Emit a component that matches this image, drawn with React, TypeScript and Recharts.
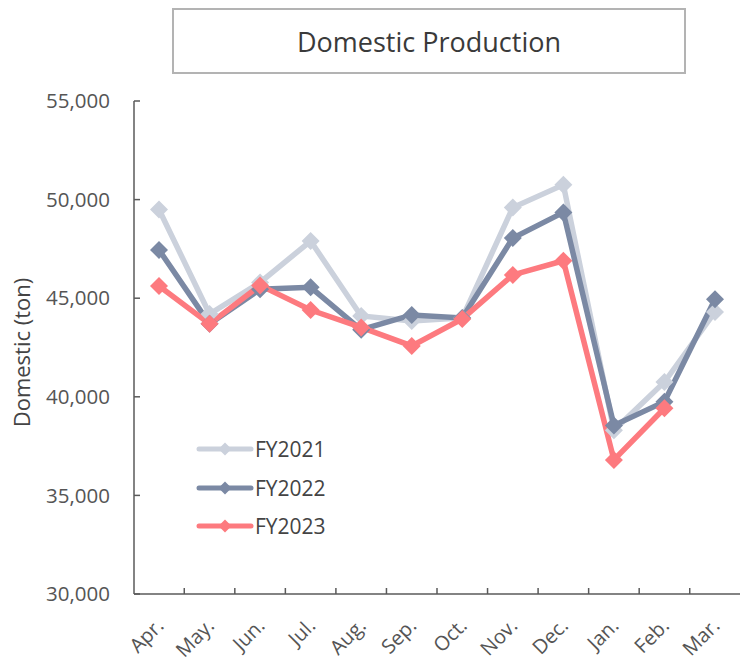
import React from "react";
import { LineChart, Line, XAxis, YAxis } from "recharts";

const MONTHS = ["Apr.", "May.", "Jun.", "Jul.", "Aug.", "Sep.", "Oct.", "Nov.", "Dec.", "Jan.", "Feb.", "Mar."];
const FY2021 = [49500, 44200, 45800, 47900, 44100, 43850, 44000, 49600, 50750, 38300, 40750, 44300];
const FY2022 = [47450, 43700, 45450, 45550, 43400, 44150, 44000, 48050, 49350, 38550, 39750, 44950];
const FY2023 = [45620, 43700, 45650, 44400, 43520, 42580, 43950, 46180, 46900, 36800, 39420, null];
const Y_TICKS = [30000, 35000, 40000, 45000, 50000, 55000];

const SERIES = [
  { key: "FY2021", color: "#cbd1dc", values: FY2021 },
  { key: "FY2022", color: "#7b89a4", values: FY2022 },
  { key: "FY2023", color: "#fd7a7f", values: FY2023 },
];

const FONT = "'Open Sans', 'Noto Sans', sans-serif";
const AXIS_COLOR = "#5a5a5a";
const TEXT_COLOR = "#555555";

// plot area: y axis at x=134, right edge at 740; half a category either side
const PLOT_W = 606;
const PAD = 25;
const HALF_STEP = (PLOT_W - 2 * PAD) / (MONTHS.length - 1) / 2;

const data = MONTHS.map((m, i) => ({
  month: m,
  FY2021: FY2021[i],
  FY2022: FY2022[i],
  FY2023: FY2023[i],
}));

const diamond = (color: string) => (props: any) => {
  const { cx, cy, index } = props;
  if (cx == null || cy == null || props.value == null) return <g key={index} />;
  const r = 9;
  return (
    <polygon
      key={index}
      points={`${cx},${cy - r} ${cx + r},${cy} ${cx},${cy + r} ${cx - r},${cy}`}
      fill={color}
    />
  );
};

const MonthTick = (props: any) => {
  const { x, y, payload, index } = props;
  const tx = x + 6;
  const ty = y + 33;
  return (
    <g>
      {index < MONTHS.length - 1 && (
        <line
          x1={x + HALF_STEP}
          x2={x + HALF_STEP}
          y1={y}
          y2={y - 6}
          stroke={AXIS_COLOR}
          strokeWidth={1.5}
        />
      )}
      <text
        x={tx}
        y={ty}
        textAnchor="end"
        fill={TEXT_COLOR}
        fontSize={20}
        fontFamily={FONT}
        transform={`rotate(-45, ${tx}, ${ty})`}
      >
        {payload.value}
      </text>
    </g>
  );
};

const LegendBox = () => (
  <div style={{ fontFamily: FONT, fontSize: 21, color: "#444" }}>
    {SERIES.map((s) => (
      <div key={s.key} style={{ display: "flex", alignItems: "center", height: 38.5 }}>
        <svg width={58} height={16} style={{ marginRight: 1 }}>
          <line x1={3} x2={55} y1={8} y2={8} stroke={s.color} strokeWidth={5} strokeLinecap="round" />
          <polygon points="29,1.5 35.5,8 29,14.5 22.5,8" fill={s.color} />
        </svg>
        <span>{s.key}</span>
      </div>
    ))}
  </div>
);

export default function App() {
  return (
    <div style={{ position: "absolute", left: 0, top: 0, width: 741, height: 660, background: "#fff" }}>
      <div
        style={{
          position: "absolute",
          left: 172,
          top: 8,
          width: 510,
          height: 62,
          border: "2px solid #b3b3b3",
          display: "flex",
          alignItems: "center",
          justifyContent: "center",
          fontFamily: FONT,
          fontSize: 27,
          color: "#3a3a3a",
          zIndex: 2,
        }}
      >
        Domestic Production
      </div>
      <div style={{ position: "absolute", left: 196, top: 430, zIndex: 2 }}>
        <LegendBox />
      </div>
      <LineChart width={741} height={660} data={data} margin={{ top: 101, right: 1, left: 0, bottom: 0 }}>
        <XAxis
          dataKey="month"
          height={66}
          padding={{ left: PAD, right: PAD }}
          tickSize={0}
          tickMargin={0}
          tick={<MonthTick />}
          interval={0}
          axisLine={{ stroke: AXIS_COLOR, strokeWidth: 1.5 }}
          tickLine={false}
        />
        <YAxis
          width={134}
          domain={[30000, 55000]}
          ticks={Y_TICKS}
          interval={0}
          tickSize={-6}
          tickMargin={30}
          tickFormatter={(v: number) => v.toLocaleString("en-US")}
          tick={{ fill: TEXT_COLOR, fontSize: 20.5, fontFamily: FONT }}
          axisLine={{ stroke: AXIS_COLOR, strokeWidth: 1.5 }}
          tickLine={{ stroke: AXIS_COLOR, strokeWidth: 1.5 }}
          label={{
            value: "Domestic (ton)",
            angle: -90,
            position: "center",
            dx: -45,
            dy: 5,
            style: { fill: "#444", fontSize: 22, fontFamily: FONT },
          }}
        />
        {SERIES.map((s) => (
          <Line
            key={s.key}
            dataKey={s.key}
            stroke={s.color}
            strokeWidth={5.5}
            dot={diamond(s.color)}
            activeDot={false}
            isAnimationActive={false}
            connectNulls={false}
          />
        ))}
      </LineChart>
    </div>
  );
}
